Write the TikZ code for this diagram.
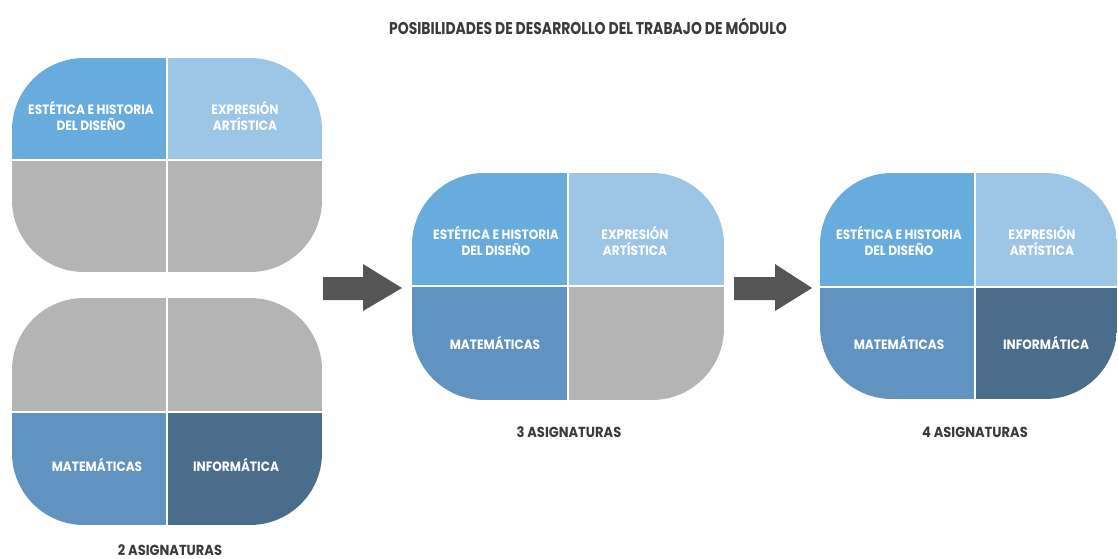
\documentclass[tikz,border=0pt]{standalone}
\usepackage{fontspec}
\setmainfont{Poppins}[FakeStretch=0.9]
\newfontfamily\titlefont{Poppins}[FakeStretch=0.82]
\definecolor{estblue}{HTML}{68ACDD}
\definecolor{expblue}{HTML}{9CC5E6}
\definecolor{matblue}{HTML}{6193C1}
\definecolor{infblue}{HTML}{4B6D8C}
\definecolor{cellgray}{HTML}{B4B4B4}
\definecolor{arrowgray}{HTML}{555555}
\definecolor{labelgray}{HTML}{3A3A3A}

\begin{document}
\begin{tikzpicture}[x=1pt,y=-1pt,
    cell/.style={text=white,font=\bfseries\fontsize{13.5}{16.5}\selectfont,align=center},
    caption/.style={text=labelgray,font=\bfseries\fontsize{14.5}{16}\selectfont},
    divider/.style={white,line width=2.5pt},
    outline/.style={rounded corners=72pt}]
    \useasboundingbox (0,0) rectangle (1118,559);

    %%% Title %%%
    \node[text=labelgray,font=\titlefont\bfseries\fontsize{17}{20}\selectfont] (title) at (588,26)
        {POSIBILIDADES DE DESARROLLO DEL TRABAJO DE MÓDULO};

    %%% Panel 1: top left %%%
    \begin{scope}
        \clip[outline] (12,58) rectangle (322,272);
        \fill[estblue] (12,58) rectangle (167,160);   % estetica
        \fill[expblue] (167,58) rectangle (322,160);  % expresion
        \fill[cellgray] (12,160) rectangle (167,272);
        \fill[cellgray] (167,160) rectangle (322,272);
    \end{scope}
    \draw[divider] (167,58) -- (167,272);
    \draw[divider] (12,160) -- (322,160);
    \node[cell] (estA) at (91,116) {ESTÉTICA E HISTORIA\\DEL DISEÑO};
    \node[cell] (expA) at (245,116) {EXPRESIÓN\\ARTÍSTICA};

    %%% Panel 2: bottom left %%%
    \begin{scope}
        \clip[outline] (12,298) rectangle (322,525);
        \fill[cellgray] (12,298) rectangle (167,412);
        \fill[cellgray] (167,298) rectangle (322,412);
        \fill[matblue] (12,412) rectangle (167,525);  % matematicas
        \fill[infblue] (167,412) rectangle (322,525); % informatica
    \end{scope}
    \draw[divider] (167,298) -- (167,525);
    \draw[divider] (12,412) -- (322,412);
    \node[cell] (matB) at (97,465) {MATEMÁTICAS};
    \node[cell] (infB) at (236,465) {INFORMÁTICA};
    \node[caption] (capB) at (170,550) {2 ASIGNATURAS};

    %%% Arrow 1 %%%
    \fill[arrowgray] (323,277) -- (363,277) -- (363,264) -- (402,288)
        -- (363,311) -- (363,300) -- (323,300) -- cycle;

    %%% Panel 3: middle %%%
    \begin{scope}
        \clip[outline] (412,173) rectangle (724,400);
        \fill[estblue] (412,173) rectangle (568,286);
        \fill[expblue] (568,173) rectangle (724,286);
        \fill[matblue] (412,286) rectangle (568,400);
        \fill[cellgray] (568,286) rectangle (724,400);
    \end{scope}
    \draw[divider] (568,173) -- (568,400);
    \draw[divider] (412,286) -- (724,286);
    \node[cell] (estC) at (496,241) {ESTÉTICA E HISTORIA\\DEL DISEÑO};
    \node[cell] (expC) at (635,241) {EXPRESIÓN\\ARTÍSTICA};
    \node[cell] (matC) at (495,343) {MATEMÁTICAS};
    \node[caption] (capC) at (569,432) {3 ASIGNATURAS};

    %%% Arrow 2 %%%
    \fill[arrowgray] (734,277) -- (775,277) -- (775,264) -- (812,288)
        -- (775,311) -- (775,300) -- (734,300) -- cycle;

    %%% Panel 4: right %%%
    \begin{scope}
        \clip[outline] (820,173) rectangle (1117,399);
        \fill[estblue] (820,173) rectangle (975,287);
        \fill[expblue] (975,173) rectangle (1117,287);
        \fill[matblue] (820,287) rectangle (975,399);
        \fill[infblue] (975,287) rectangle (1117,399);
    \end{scope}
    \draw[divider] (975,173) -- (975,399);
    \draw[divider] (820,287) -- (1117,287);
    \node[cell] (estD) at (899,241) {ESTÉTICA E HISTORIA\\DEL DISEÑO};
    \node[cell] (expD) at (1042,241) {EXPRESIÓN\\ARTÍSTICA};
    \node[cell] (matD) at (899,343) {MATEMÁTICAS};
    \node[cell] (infD) at (1046,343) {INFORMÁTICA};
    \node[caption] (capD) at (975,432) {4 ASIGNATURAS};
\end{tikzpicture}
\end{document}
